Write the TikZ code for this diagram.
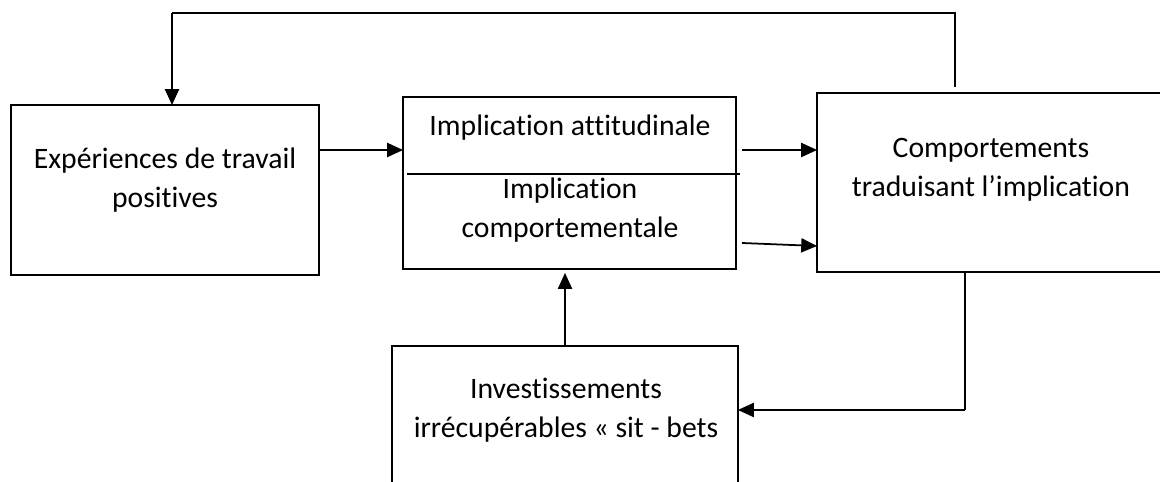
\documentclass[tikz,border=0pt]{standalone}
\usepackage{fontspec}
\setmainfont{Carlito}[Ligatures=NoCommon]
\usetikzlibrary{arrows.meta}

\tikzset{
  mBox/.style={draw, line width=1.1pt, outer sep=0pt, inner sep=0pt},
  mText/.style={align=center, inner sep=0pt},
  mArrow/.style={line width=1pt, -{Triangle[length=9pt,width=8pt]}},
  mThin/.style={line width=0.6pt}
}

\begin{document}
\begin{tikzpicture}[x=0.02cm, y=-0.02cm, font=\fontsize{16.9}{22.2}\selectfont]
\useasboundingbox (0,0) rectangle (1160,482);

\node[mBox, minimum width=6.16cm, minimum height=3.4cm] (exp) at (165,190) {};
\node[mText] (expText) at (165,180) {Expériences de travail\\positives};

\node[mBox, minimum width=6.66cm, minimum height=3.44cm] (imp) at (569.5,183) {};
\node[mText] (impAtt) at (570,128) {Implication attitudinale};
\node[mText] (impComp) at (570,210) {Implication\\comportementale};
\draw[mThin] (407,174) -- (740,174);

\node[mBox, minimum width=7.66cm, minimum height=3.58cm] (comp) at (1008.5,182.5) {};
\node[mText] (compText) at (991,170) {Comportements\\traduisant l’implication};

\node[mBox, minimum width=6.92cm, minimum height=3.08cm] (inv) at (565,423) {};
\node[mText] (invText) at (566,410) {Investissements\\irrécupérables « sit - bets};

% feedback on top
\coordinate (topL) at (172,13);
\coordinate (topR) at (955,13);
\draw[mThin] (topR |- 0,87) -- (topR) -- (topL);
\draw[mArrow] (topL) -- (topL |- exp.north);

\draw[mArrow] (exp.east |- 0,150) -- (imp.west |- 0,150);

\coordinate (bcUp) at (742,150);
\coordinate (bcDown) at (742,243);
\draw[mArrow] (bcUp) -- (bcUp -| comp.west);
\draw[mArrow] (bcDown) -- ([yshift=-0.06cm]bcDown -| comp.west);

\draw[mArrow] (inv.north) -- ([yshift=-0.08cm]inv.north |- imp.south);

\coordinate (cdTurn) at (965,410);
\draw[mThin] (cdTurn |- comp.south) -- (cdTurn);
\draw[mArrow] (cdTurn) -- (cdTurn -| inv.east);

\end{tikzpicture}
\end{document}
